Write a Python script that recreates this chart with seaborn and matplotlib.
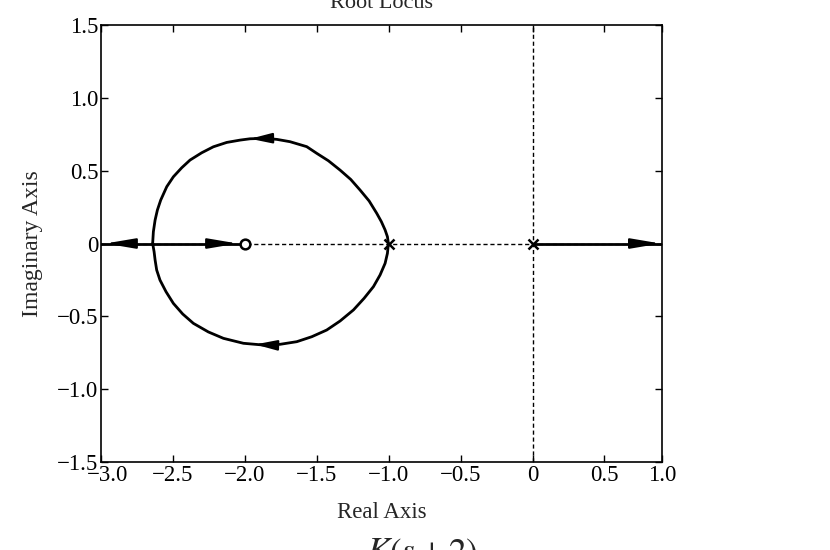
import numpy as np
import pandas as pd
import matplotlib
matplotlib.use("Agg")
import matplotlib.pyplot as plt
import matplotlib.transforms as mtransforms
import seaborn as sns

# Locus points (real part, imaginary part)
upper_re = [-1.002, -1.009, -1.025, -1.051, -1.083, -1.136, -1.199, -1.264,
            -1.338, -1.419, -1.500, -1.570, -1.686, -1.778, -1.871, -1.964,
            -2.033, -2.126, -2.219, -2.300, -2.381, -2.439, -2.497, -2.543,
            -2.585, -2.608, -2.624, -2.636, -2.641]
upper_im = [0.000, 0.047, 0.093, 0.150, 0.207, 0.292, 0.367, 0.440,
            0.504, 0.568, 0.619, 0.665, 0.699, 0.715, 0.722, 0.719,
            0.710, 0.694, 0.664, 0.623, 0.573, 0.520, 0.458, 0.390,
            0.298, 0.230, 0.161, 0.081, 0.000]
lower_re = [-1.002, -1.009, -1.025, -1.060, -1.106, -1.171, -1.245, -1.338,
            -1.431, -1.535, -1.639, -1.755, -1.871, -2.010, -2.149, -2.254,
            -2.358, -2.432, -2.497, -2.548, -2.590, -2.613, -2.624, -2.631,
            -2.641]
lower_im = [0.000, -0.068, -0.136, -0.216, -0.296, -0.376, -0.456, -0.532,
            -0.594, -0.640, -0.674, -0.692, -0.697, -0.685, -0.651, -0.607,
            -0.548, -0.484, -0.411, -0.331, -0.251, -0.182, -0.113, -0.056,
            0.000]
left_re = [-2.64, -3.00]
zero_branch_re = [-2.64, -2.00]
right_re = [0.00, 0.90]

poles_re = [0.0, -1.0]
zeros_re = [-2.0]

# arrowheads on the real axis: (tip, base)
axis_arrow_tips = [(-2.97, 0.0), (-2.05, 0.0), (0.89, 0.0)]
axis_arrow_bases = [(-2.80, 0.0), (-2.22, 0.0), (0.70, 0.0)]
# arrowheads on the loop
loop_arrow_tips = [(-1.964, 0.719), (-1.929, -0.693)]
loop_arrow_bases = [(-1.848, 0.722), (-1.825, -0.697)]

x_ticks = [-3.0, -2.5, -2.0, -1.5, -1.0, -0.5, 0.0, 0.5, 0.9]
x_labels = ["\u22123.0", "\u22122.5", "\u22122.0", "\u22121.5", "\u22121.0", "\u22120.5", "0", "0.5", "1.0"]
y_ticks = [-1.5, -1.0, -0.5, 0.0, 0.5, 1.0, 1.5]
y_labels = ["\u22121.5", "\u22121.0", "\u22120.5", "0", "0.5", "1.0", "1.5"]

frames = []
for name, xs, ys in [("upper", upper_re, upper_im),
                     ("lower", lower_re, lower_im),
                     ("left", left_re, [0.0] * len(left_re)),
                     ("zero", zero_branch_re, [0.0] * len(zero_branch_re)),
                     ("right", right_re, [0.0] * len(right_re))]:
    frames.append(pd.DataFrame({"re": xs, "im": ys, "branch": name}))
df = pd.concat(frames, ignore_index=True)

sns.set_style("ticks")
plt.rcParams["font.family"] = ["Liberation Serif", "DejaVu Serif"]
plt.rcParams["mathtext.fontset"] = "stix"

fig = plt.figure(figsize=(8.3, 5.5), dpi=100)
ax = fig.add_axes([0.1217, 0.16, 0.6759, 0.7945])

# dotted axis lines
ax.axhline(0, color="k", lw=1.0, ls=(0, (3, 2)), zorder=1)
ax.axvline(0, color="k", lw=1.0, ls=(0, (3, 2)), zorder=1)

sns.lineplot(data=df, x="re", y="im", units="branch", estimator=None, sort=False,
             color="k", lw=2.0, ax=ax, zorder=3)

# arrowheads
for tips, bases, hl in [(axis_arrow_tips, axis_arrow_bases, 1.3),
                        (loop_arrow_tips, loop_arrow_bases, 0.95)]:
    for tip, base in zip(tips, bases):
        ax.annotate("", xy=tip, xytext=base,
                    arrowprops=dict(arrowstyle=f"-|>,head_length={hl},head_width=0.22",
                                    mutation_scale=14, color="k", lw=1.5,
                                    shrinkA=0, shrinkB=0), zorder=4)

ax.plot(poles_re, [0.0] * len(poles_re), ls="none", marker="x", ms=7, mew=1.8,
        color="k", zorder=5)
ax.plot(zeros_re, [0.0] * len(zeros_re), ls="none", marker="o", ms=7, mew=1.8,
        mfc="white", mec="k", zorder=5)

ax.set_xlim(-3.0, 0.9)
ax.set_ylim(-1.5, 1.5)
ax.set_xticks(x_ticks)
ax.set_xticklabels(x_labels)
ax.set_yticks(y_ticks)
ax.set_yticklabels(y_labels)
ax.tick_params(direction="in", length=5, width=1, top=True, right=True,
               labelsize=16.5, pad=2, colors="k")
for s in ax.spines.values():
    s.set_linewidth(1.2)
    s.set_color("k")

# the first x label sits a little to the right, clear of the -1.5 label
first = ax.get_xticklabels()[0]
first.set_transform(first.get_transform() +
                    mtransforms.ScaledTranslation(5 / 72, 0, fig.dpi_scale_trans))

ax.set_xlabel("Real Axis", fontsize=16.5, labelpad=12)
ax.set_ylabel("Imaginary Axis", fontsize=17, labelpad=10)
ax.set_title("Root Locus", fontsize=16, pad=12)

fig.text(0.508, 0.025, "$K(s+2)$", fontsize=25, ha="center", va="top")

fig.savefig("out.png", dpi=100)
